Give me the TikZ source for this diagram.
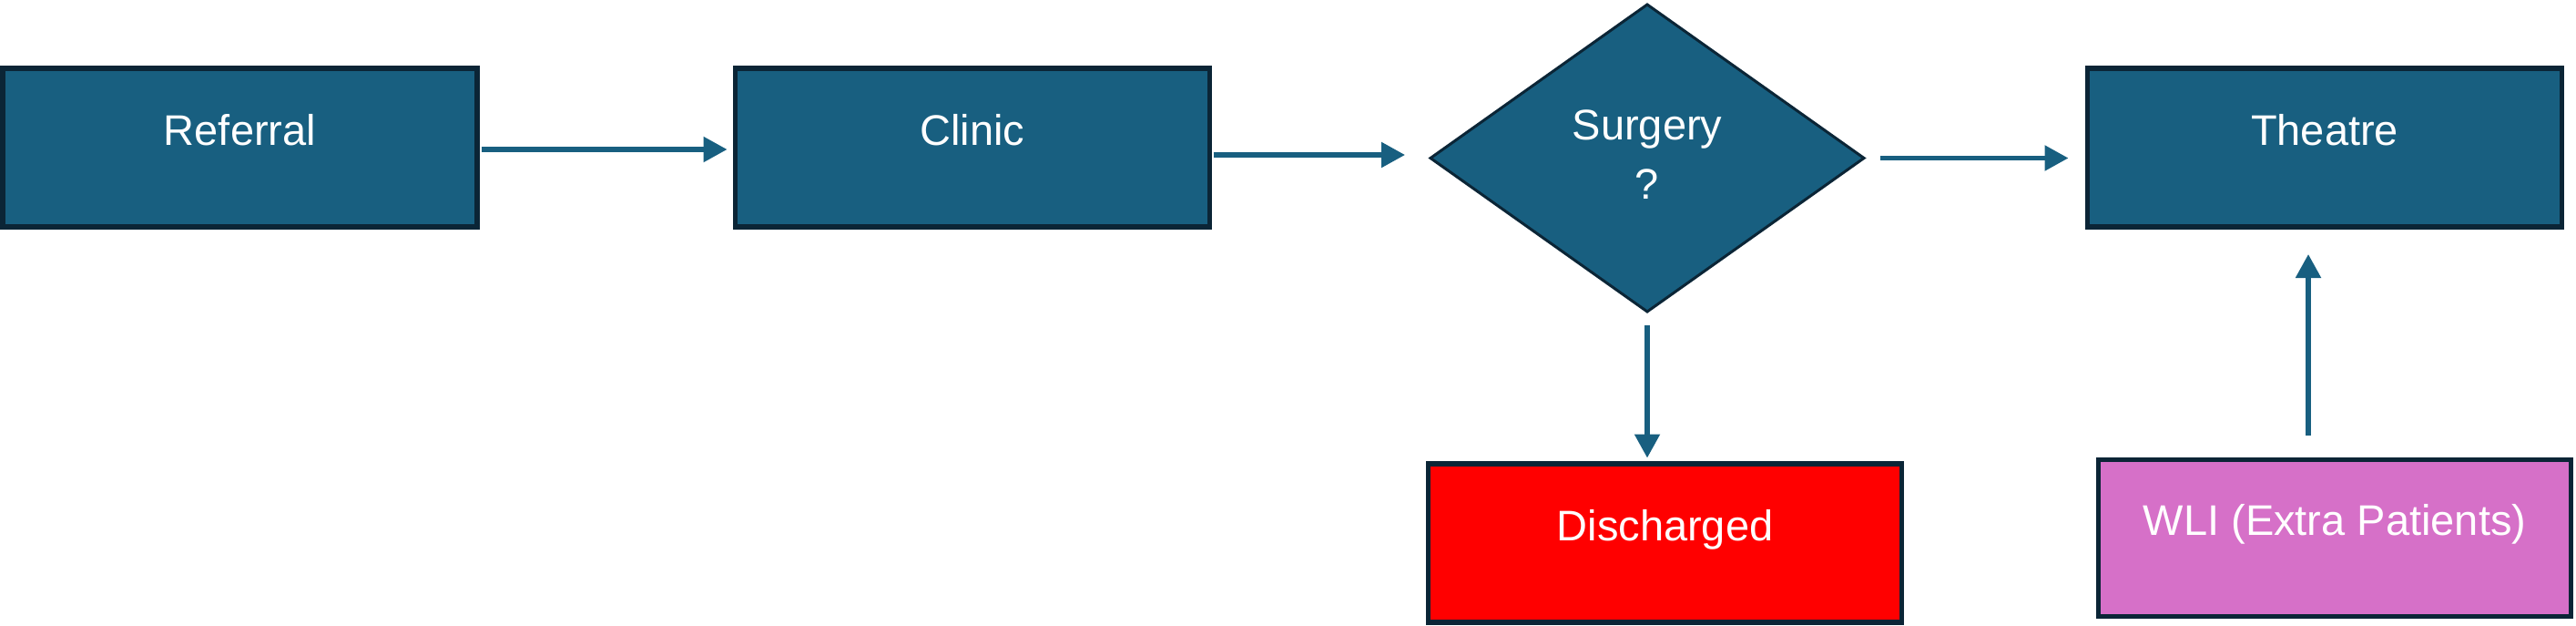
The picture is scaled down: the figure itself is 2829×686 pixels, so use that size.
\documentclass[tikz,border=0pt]{standalone}
\usepackage{fontspec}
\setmainfont{Liberation Sans}
\usetikzlibrary{arrows.meta,shapes.geometric}
\definecolor{boxblue}{HTML}{185F80}
\definecolor{boxedge}{HTML}{0B2536}
\definecolor{wlipink}{HTML}{D670C8}
\definecolor{redbox}{HTML}{FF0000}
\begin{document}
\begin{tikzpicture}[x=1pt,y=-1pt,
  box/.style={rectangle, draw=boxedge, line width=5.5pt, fill=boxblue, minimum width=521pt, minimum height=174pt, inner sep=0pt, outer sep=0pt},
  decision/.style={diamond, draw=boxedge, line width=3pt, fill=boxblue, minimum width=476pt, minimum height=337pt, inner sep=0pt, outer sep=0pt},
  lbl/.style={text=white, font=\fontsize{47}{65}\selectfont, inner sep=0pt, anchor=base},
  arr/.style={draw=boxblue, line width=5.3pt, -{Triangle[length=26pt,width=27pt]}},
]
\useasboundingbox (0,0) rectangle (2829,686);
\node[box] (ref) at (263.5,162) {};
\node[box] (cli) at (1068,162) {};
\node[decision] (sur) at (1809,173.5) {};
\node[box] (the) at (2553,162) {};
\node[box, fill=redbox, minimum width=520pt] (dis) at (1828.5,596) {};
\node[box, fill=wlipink, minimum width=519pt, minimum height=172pt] (wli) at (2564,590.5) {};

\node[lbl] (refT) at ([yshift=2.5pt]ref.center) {Referral};
\node[lbl] (cliT) at ([yshift=2.5pt]cli.center) {Clinic};
\node[lbl, align=center] (surT) at ([yshift=-44.5pt]sur.center) {Surgery\\?};
\node[lbl] (theT) at ([yshift=3pt]the.center) {Theatre};
\node[lbl] (disT) at ([yshift=2.5pt]dis.center) {Discharged};
\node[lbl] (wliT) at ([yshift=3pt]wli.center) {WLI (Extra Patients)};

\draw[arr] ([xshift=5pt,yshift=-2pt]ref.east) -- ([xshift=-9pt,yshift=-2pt]cli.west);
\draw[arr] ([xshift=4pt,yshift=-8pt]cli.east) -- ([xshift=-28pt,yshift=3.5pt]sur.west);
\draw[arr] ([xshift=18pt]sur.east) -- ([xshift=-21pt,yshift=-11.5pt]the.west);
\draw[arr] ([yshift=-15pt]sur.south) -- ([xshift=-19.5pt,yshift=6.5pt]dis.north);
\draw[arr] ([xshift=-29pt,yshift=27pt]wli.north) -- ([xshift=-18pt,yshift=-30pt]the.south);
\end{tikzpicture}
\end{document}
